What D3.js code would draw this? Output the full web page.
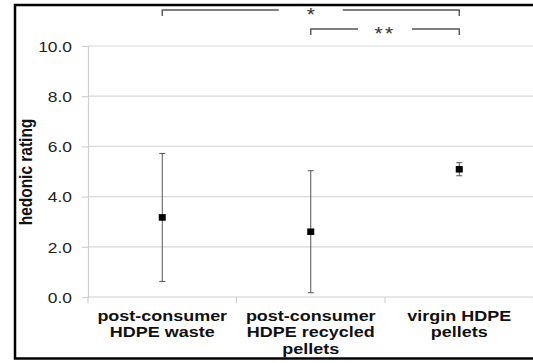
<!DOCTYPE html>
<html>
<head>
<meta charset="utf-8">
<script src="https://cdn.jsdelivr.net/npm/d3@7"></script>
<style>
  html, body { margin: 0; padding: 0; background: #fff; }
  svg { display: block; }
  text { font-family: "Liberation Sans", Arial, sans-serif; }
</style>
</head>
<body>
<script>
// Sample groups (x-axis labels, one line per entry)
const categories = [
  ["post-consumer", "HDPE waste"],
  ["post-consumer", "HDPE recycled", "pellets"],
  ["virgin HDPE", "pellets"]
];
// Mean hedonic rating per group and its standard deviation
const means = [3.17, 2.60, 5.09];
const errors = [2.55, 2.43, 0.26];
// Y-axis ticks
const yTicks = [0, 2, 4, 6, 8, 10];
// Pairwise significance markers (group indices)
const comparisons = [
  { from: 0, to: 2, label: "*" },
  { from: 1, to: 2, label: "**" }
];

const W = 533, H = 363;
const sx = 1.16; // horizontal text stretch

const svg = d3.select("body").append("svg")
  .attr("width", W).attr("height", H);

const x = d3.scaleBand()
  .domain(d3.range(categories.length))
  .range([88, 533.5])
  .paddingInner(0).paddingOuter(0);

const y = d3.scaleLinear().domain([0, 10]).range([297, 46]);

// Frame
svg.append("path")
  .attr("d", `M${W + 2},5 H15 V358.5 H${W + 2}`)
  .attr("fill", "none").attr("stroke", "#000").attr("stroke-width", 2.5);

// Horizontal gridlines
svg.append("g").selectAll("line").data(yTicks.filter(d => d > 0)).join("line")
  .attr("x1", 88).attr("x2", W)
  .attr("y1", d => y(d)).attr("y2", d => y(d))
  .attr("stroke", "#d9d9d9").attr("stroke-width", 1.2);

// Y axis
const yAxis = svg.append("g")
  .attr("transform", "translate(88,0)")
  .call(d3.axisLeft(y).tickValues(yTicks).tickSize(6).tickFormat(d3.format(".1f")));
yAxis.select(".domain").attr("stroke", "#d0d0d0").attr("stroke-width", 1.2);
yAxis.selectAll(".tick line").attr("stroke", "#d0d0d0").attr("stroke-width", 1.2);
yAxis.selectAll(".tick text")
  .attr("x", null).attr("dy", null)
  .attr("transform", `translate(-16,0) scale(${sx},1)`)
  .attr("dy", "0.35em")
  .attr("text-anchor", "end")
  .attr("font-size", 15).attr("fill", "#222");

// X axis: line plus ticks at group boundaries
const xg = svg.append("g");
xg.append("line")
  .attr("x1", 88).attr("x2", W).attr("y1", y(0)).attr("y2", y(0))
  .attr("stroke", "#d0d0d0").attr("stroke-width", 1.2);
const bounds = d3.range(categories.length + 1).map(i => 88 + i * x.bandwidth());
xg.selectAll("line.tk").data(bounds).join("line").attr("class", "tk")
  .attr("x1", d => d).attr("x2", d => d)
  .attr("y1", y(0)).attr("y2", y(0) + 6)
  .attr("stroke", "#d0d0d0").attr("stroke-width", 1.2);

// X labels
categories.forEach((lines, i) => {
  const cx = x(i) + x.bandwidth() / 2;
  const t = svg.append("text")
    .attr("transform", `translate(${cx},320.5) scale(${sx},1)`)
    .attr("text-anchor", "middle")
    .attr("font-size", 15.5).attr("font-weight", "bold").attr("fill", "#111");
  lines.forEach((s, k) => {
    t.append("tspan").attr("x", 0).attr("y", k * 16.8).text(s);
  });
});

// Y title
svg.append("text")
  .attr("transform", `translate(32,172) scale(${sx},1) rotate(-90)`)
  .attr("text-anchor", "middle")
  .attr("font-size", 15.5).attr("font-weight", "bold").attr("fill", "#111")
  .text("hedonic rating");

// Error bars
const cxOf = i => x(i) + x.bandwidth() / 2;
const eb = svg.append("g").attr("stroke", "#555").attr("stroke-width", 1);
means.forEach((m, i) => {
  const cx = cxOf(i);
  const hi = y(m + errors[i]), lo = y(m - errors[i]);
  eb.append("line").attr("x1", cx).attr("x2", cx).attr("y1", hi).attr("y2", lo);
  eb.append("line").attr("x1", cx - 3).attr("x2", cx + 3).attr("y1", hi).attr("y2", hi);
  eb.append("line").attr("x1", cx - 3).attr("x2", cx + 3).attr("y1", lo).attr("y2", lo);
});

// Mean markers
svg.append("g").selectAll("rect").data(means).join("rect")
  .attr("x", (d, i) => cxOf(i) - 3.5)
  .attr("y", d => y(d) - 3.3)
  .attr("width", 7).attr("height", 6.6)
  .attr("fill", "#000");

// Significance brackets
const bracketY = [10, 29];
const gapHalf = [32, 27];
comparisons.forEach((c, k) => {
  const x1 = cxOf(c.from), x2 = cxOf(c.to), by = bracketY[k];
  const mid = (x1 + x2) / 2, g = gapHalf[k];
  const b = svg.append("g").attr("fill", "none").attr("stroke", "#555").attr("stroke-width", 1.4);
  b.append("path").attr("d", `M${x1},${by + 6} V${by} H${mid - g}`);
  b.append("path").attr("d", `M${mid + g},${by} H${x2} V${by + 6}`);
  svg.append("text")
    .attr("transform", `translate(${mid},${by + 11.3}) scale(${sx},1)`)
    .attr("text-anchor", "middle")
    .attr("font-size", 18).attr("fill", "#333")
    .attr("letter-spacing", k === 1 ? 2 : 0)
    .text(c.label);
});
</script>
</body>
</html>
